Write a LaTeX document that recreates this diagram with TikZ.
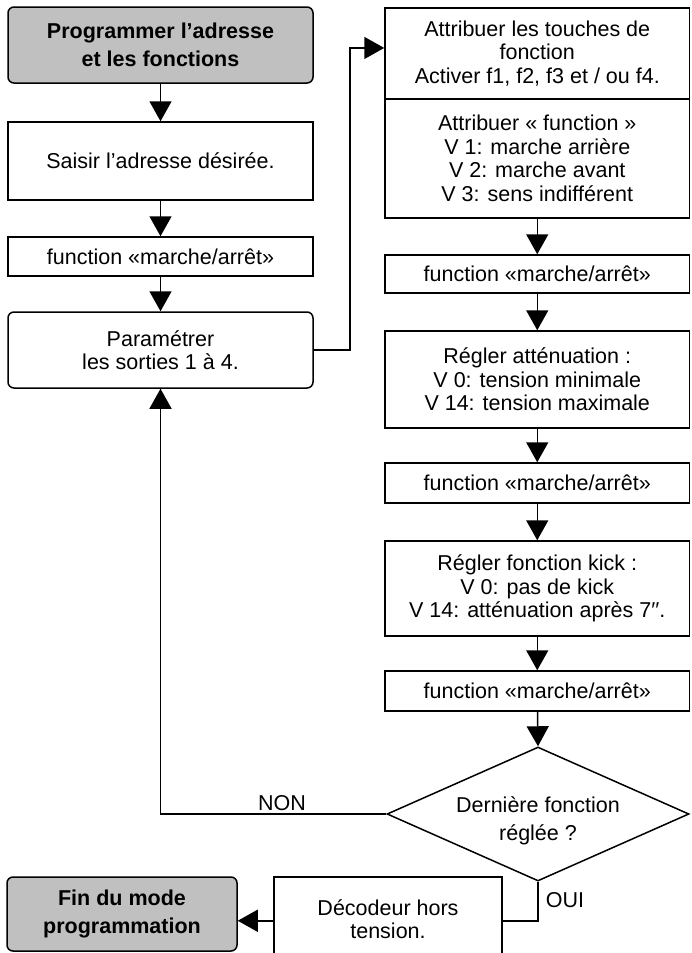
\documentclass[tikz,border=0pt]{standalone}
\usepackage{fontspec}
\setmainfont{Liberation Sans}
\usetikzlibrary{shapes.geometric,arrows.meta,calc}
\definecolor{boxgray}{RGB}{192,192,192}
\begin{document}
\begin{tikzpicture}[x=1pt,y=-1pt,
  every node/.style={font=\fontsize{21.5}{23.5}\selectfont},
  box/.style={draw,line width=1.5pt,inner sep=0pt,align=center,minimum width=305pt},
  term/.style={box,rounded corners=6pt,fill=boxgray,font=\bfseries\fontsize{21.5}{28}\selectfont},
  rbox/.style={box,rounded corners=6pt},
  dia/.style={draw,line width=1.5pt,diamond,inner sep=0pt,aspect=2.25,minimum width=302pt,minimum height=134pt},
  lbl/.style={inner sep=0pt},
  arr/.style={line width=1.5pt,-{Triangle[length=20pt,width=22pt]}},
  ln/.style={line width=1.5pt}
]
\useasboundingbox (0,0) rectangle (691,953);
% left column
\node[term,minimum height=76pt] (start) at (160.5,45) {Programmer l’adresse\\et les fonctions};
\node[box,minimum height=78pt] (saisir) at (160.5,161) {Saisir l’adresse désirée.};
\node[box,minimum height=39pt] (f1) at (160.5,256.5) {function «marche/arrêt»};
\node[rbox,minimum height=76pt] (param) at (160.5,350) {Paramétrer\\les sorties 1 à 4.};
% right column
\node[box,minimum width=304.5pt,minimum height=91pt] (attrA) at (537.25,53.5) {Attribuer les touches de\\fonction\\Activer f1, f2, f3 et / ou f4.};
\node[box,minimum width=304.5pt,minimum height=119pt] (attrB) at (537.25,158.5) {Attribuer « function »\\V 1: marche arrière\\V 2: marche avant\\V 3: sens indifférent};
\node[box,minimum width=304.5pt,minimum height=38pt] (f2) at (537.25,274) {function «marche/arrêt»};
\node[box,minimum width=304.5pt,minimum height=97pt] (regler) at (537.25,379.5) {Régler atténuation :\\V 0: tension minimale\\V 14: tension maximale};
\node[box,minimum width=304.5pt,minimum height=40pt] (f3) at (537.25,483) {function «marche/arrêt»};
\node[box,minimum width=304.5pt,minimum height=95pt] (kick) at (537.25,588.5) {Régler fonction kick :\\V 0: pas de kick\\V 14: atténuation après 7′′.};
\node[box,minimum width=304.5pt,minimum height=40pt] (f4) at (537.25,691) {function «marche/arrêt»};
\node[dia,label={[lbl,align=center,yshift=-7pt,font=\fontsize{21.5}{28}\selectfont]center:Dernière fonction\\réglée ?}] (dec) at (538,814) {};
% bottom
\node[box,minimum width=228pt,minimum height=84pt] (decod) at (388,919) {Décodeur hors\\tension.};
\node[term,minimum width=230pt,minimum height=74pt] (fin) at (122,914) {Fin du mode\\programmation};
% connectors
\draw[arr] (start) -- (saisir);
\draw[arr] (saisir) -- (f1);
\draw[arr] (f1) -- (param);
\coordinate (jA) at ($(attrA.north west)!0.44!(attrA.south west)$);
\draw[arr] (param.east) -- ++(36,0) |- (jA);
\draw[arr] (attrB) -- (f2);
\draw[arr] (f2) -- (regler);
\draw[arr] (regler) -- (f3);
\draw[arr] (f3) -- (kick);
\draw[arr] (kick) -- (f4);
\draw[arr] (f4) -- (dec.north);
\draw[arr] (dec.west) -| (param.south);
\coordinate (jO) at ($(dec.south)+(0,39)$);
\draw[ln] (dec.south) -- (jO) -- (jO -| decod.east);
\draw[arr] (decod.west |- jO) -- (fin.east |- jO);
\node[lbl] (non) at (282,803) {NON};
\node[lbl] (oui) at (565,900) {OUI};
\end{tikzpicture}
\end{document}
